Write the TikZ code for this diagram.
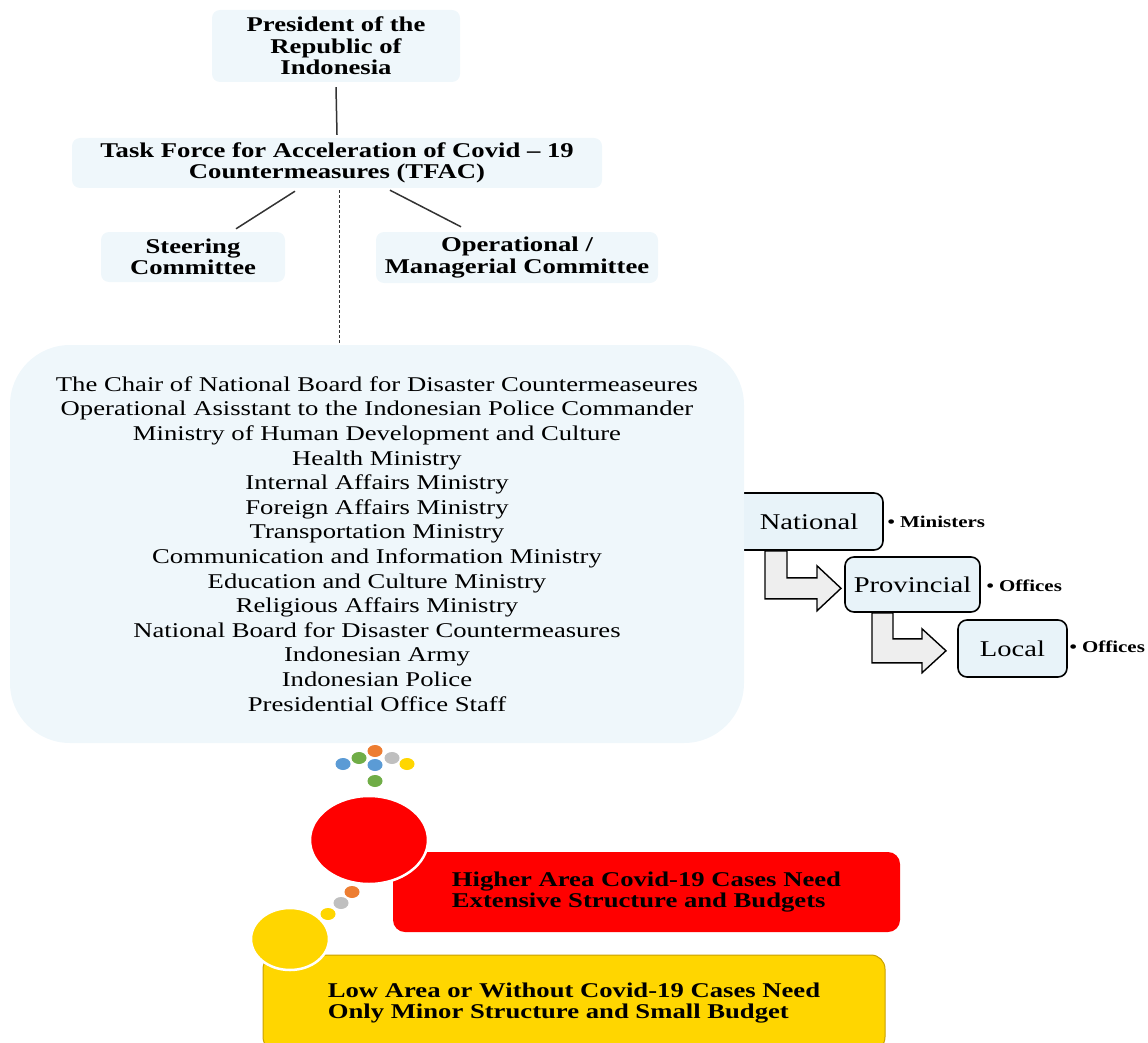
\documentclass[tikz,border=0pt]{standalone}
\usepackage{fontspec}
\setmainfont{Liberation Serif}[FakeStretch=1.27]
\usetikzlibrary{positioning}
\definecolor{paleblue}{RGB}{239,247,251}
\definecolor{lvlblue}{RGB}{232,243,249}
\definecolor{arrowgray}{RGB}{238,238,238}
\definecolor{dotorange}{RGB}{237,125,49}
\definecolor{dotgreen}{RGB}{112,173,71}
\definecolor{dotgray}{RGB}{191,191,191}
\definecolor{dotblue}{RGB}{91,155,213}
\definecolor{dotyellow}{RGB}{255,214,0}
\definecolor{bigred}{RGB}{255,0,0}
\definecolor{bigyellow}{RGB}{255,214,0}
\definecolor{goldline}{RGB}{200,160,0}

\begin{document}
\begin{tikzpicture}[x=1pt,y=-1pt,
  orgbox/.style={fill=paleblue, rounded corners=8pt, align=center,
    font=\bfseries\fontsize{21}{21.5}\selectfont},
  lvlbox/.style={draw=black, line width=1.6pt, fill=lvlblue, rounded corners=9pt,
    font=\fontsize{22.5}{24}\selectfont},
  lvlnote/.style={anchor=west, font=\bfseries\fontsize{16.5}{18}\selectfont},
  blockarr/.style={draw=black, line width=1.4pt, fill=arrowgray, line join=miter},
  link/.style={draw=black!80, line width=1.5pt},
  caseboxtext/.style={align=left, font=\bfseries\fontsize{21}{20.7}\selectfont}]
  \useasboundingbox (0,0) rectangle (1148,1043);
  \clip (0,0) rectangle (1148,1043);

  % top of the structure
  \node[orgbox, minimum width=248, minimum height=72] at (336,46) (pres)
    {President of the\\Republic of\\Indonesia};
  \node[orgbox, minimum width=530, minimum height=50] at (337,163) (tfac)
    {Task Force for Acceleration of Covid – 19\\Countermeasures (TFAC)};
  \node[orgbox, minimum width=184, minimum height=50] at (193,257) (steer)
    {Steering\\Committee};
  \node[orgbox, minimum width=282, minimum height=51] at (517,257.5) (oper)
    {Operational /\\Managerial Committee};

  % levels
  \node[lvlbox, minimum width=148, minimum height=57] at (809,521.5) (nat) {National};
  \node[lvlbox, minimum width=135, minimum height=55] at (912.5,584.5) (prov) {Provincial};
  \node[lvlbox, minimum width=109, minimum height=57] at (1012.5,648.5) (loc) {Local};
  \node[lvlnote] at (884,522) (natnote) {• Ministers};
  \node[lvlnote] at (983,586) (provnote) {• Offices};
  \node[lvlnote] at (1066,647) (locnote) {• Offices};
  \draw[blockarr] ([xshift=-44]nat.south) -- ++(22,0) -- ++(0,27) -- ++(30,0)
    -- ++(0,-12) -- ++(24,22.5) -- ++(-24,22.5) -- ++(0,-12) -- ++(-52,0) -- cycle;
  \draw[blockarr] ([xshift=-40.5]prov.south) -- ++(21,0) -- ++(0,26) -- ++(29,0)
    -- ++(0,-10) -- ++(24,22) -- ++(-24,22) -- ++(0,-10) -- ++(-50,0) -- cycle;

  % members
  \node[fill=paleblue, rounded corners=60pt, minimum width=734, minimum height=398,
    align=center, font=\fontsize{21}{24.6}\selectfont] at (377,544) (board)
    {The Chair of National Board for Disaster Countermeaseures\\
     Operational Asisstant to the Indonesian Police Commander\\
     Ministry of Human Development and Culture\\
     Health Ministry\\
     Internal Affairs Ministry\\
     Foreign Affairs Ministry\\
     Transportation Ministry\\
     Communication and Information Ministry\\
     Education and Culture Ministry\\
     Religious Affairs Ministry\\
     National Board for Disaster Countermeasures\\
     Indonesian Army\\
     Indonesian Police\\
     Presidential Office Staff};

  \draw[link] ([yshift=-5]pres.south) -- ([yshift=3]tfac.north);
  \draw[link] ([xshift=-42,yshift=-3]tfac.south) -- ([xshift=43,yshift=3]steer.north);
  \draw[link] ([xshift=53,yshift=-2]tfac.south) -- ([xshift=-56,yshift=5]oper.north);
  \draw[black!80, line width=0.8pt, dash pattern=on 3pt off 2pt]
    ([xshift=2,yshift=-2]tfac.south) -- ([xshift=-38,yshift=2]board.north);

  % dots
  \foreach \x/\y/\c in {375/751/dotorange, 359/758/dotgreen, 392/758/dotgray,
      343/764/dotblue, 375/765/dotblue, 407/764/dotyellow, 375/781/dotgreen,
      352/892/dotorange, 341/903/dotgray, 328/914/dotyellow}
    \fill[\c] (\x,\y) ellipse (7.5 and 6);

  % cases
  \node[fill=bigred, rounded corners=12pt, minimum width=507, minimum height=80,
    caseboxtext] at (646.5,892) (high)
    {Higher Area Covid-19 Cases Need\\Extensive Structure and Budgets};
  \draw[fill=bigred, draw=white, line width=2.5pt] (369,840) ellipse (59 and 44);
  \node[fill=bigyellow, draw=goldline, line width=1pt, rounded corners=14pt,
    minimum width=622, minimum height=96, caseboxtext] at (574,1003) (low)
    {Low Area or Without Covid-19 Cases Need\\Only Minor Structure and Small Budget};
  \draw[fill=bigyellow, draw=white, line width=2.5pt] (290,939) ellipse (39 and 31);
\end{tikzpicture}
\end{document}
